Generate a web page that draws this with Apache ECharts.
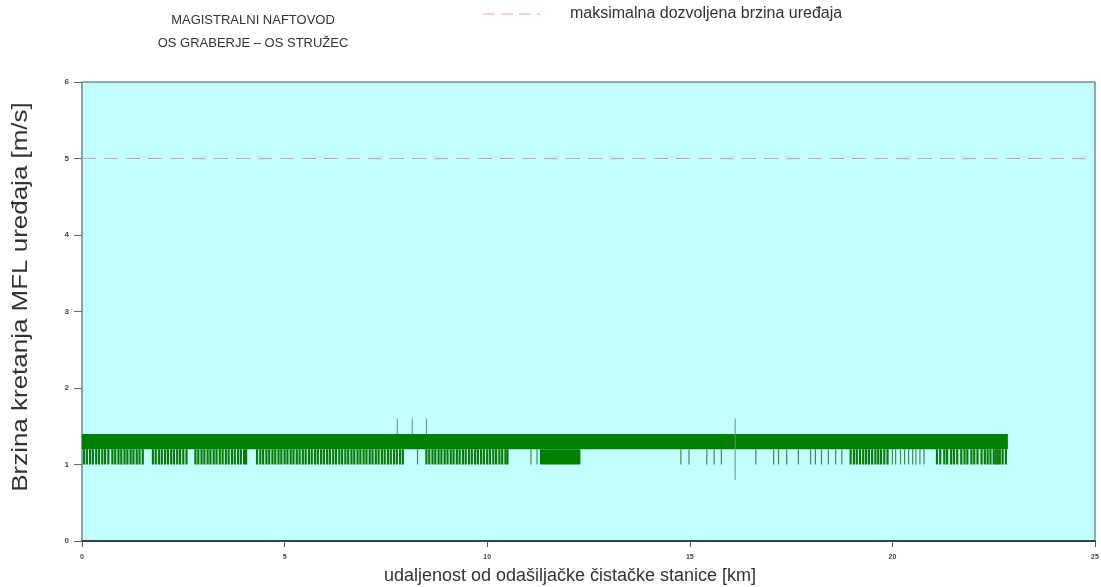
<!DOCTYPE html>
<html>
<head>
<meta charset="utf-8">
<script src="https://cdn.jsdelivr.net/npm/echarts@6/dist/echarts.min.js"></script>
<style>
  html, body { margin: 0; padding: 0; background: #ffffff; }
  #chart { width: 1101px; height: 587px; }
</style>
</head>
<body>
<div id="chart"></div>
<script>
// Speed of the MFL inspection tool along the pipeline (km, m/s)
const titleLines = ['MAGISTRALNI NAFTOVOD', 'OS GRABERJE – OS STRUŽEC'];
const limitName = 'maksimalna dozvoljena brzina uređaja';
const xName = 'udaljenost od odašiljačke čistačke stanice [km]';
const yName = 'Brzina kretanja MFL uređaja [m/s]';

const maxAllowedSpeed = 5;

// continuous speed band: [startKm, endKm, lowSpeed, highSpeed]
const bandRanges = [
  [0, 22.85, 1.2, 1.4],
  [11.3, 12.3, 1.0, 1.2]
];

// readings where speed fell to 1.0 m/s
const dipSpeed = 1.0;
const dipBase = 1.2;
// densely recorded stretches
const denseDipKm = [
  0.05, 0.12, 0.2, 0.27, 0.35, 0.42, 0.5, 0.57, 0.65, 0.75, 0.82, 0.9, 0.97, 1.05, 1.12, 1.2, 1.27, 1.35, 1.42, 1.5,
  1.75, 1.82, 1.9, 1.97, 2.05, 2.12, 2.2, 2.27, 2.35, 2.42, 2.5, 2.58,
  2.8, 2.87, 2.95, 3.02, 3.1, 3.17, 3.25, 3.32, 3.4, 3.47, 3.55, 3.62, 3.7, 3.77, 3.85, 3.92, 4.0, 4.05,
  4.32, 4.4, 4.47, 4.55, 4.62, 4.7, 4.77, 4.85, 4.92, 5.0, 5.07, 5.15, 5.22, 5.3, 5.37, 5.45, 5.52,
  5.6, 5.67, 5.75, 5.82, 5.9, 5.97, 6.05, 6.12, 6.2, 6.27, 6.35, 6.42, 6.5, 6.57, 6.65, 6.72, 6.8,
  6.87, 6.95, 7.02, 7.1, 7.17, 7.25, 7.32, 7.4, 7.47, 7.55, 7.62, 7.7, 7.77, 7.85, 7.92,
  8.5, 8.57, 8.65, 8.72, 8.8, 8.87, 8.95, 9.02, 9.1, 9.17, 9.25, 9.32, 9.4, 9.47, 9.55, 9.62, 9.7,
  9.77, 9.85, 9.92, 10.0, 10.07, 10.15, 10.22, 10.3, 10.37, 10.45, 10.5,
  18.97, 19.05, 19.12, 19.2, 19.28, 19.35, 19.42, 19.5, 19.58, 19.65, 19.72, 19.8, 19.88,
  21.1, 21.18, 21.28, 21.35, 21.45, 21.52, 21.6, 21.7, 21.78, 21.85, 21.95, 22.02, 22.1,
  22.2, 22.28, 22.35, 22.42, 22.5, 22.55, 22.6, 22.65, 22.72, 22.8
];
// isolated readings
const sparseDipKm = [
  8.28, 11.08, 11.23,
  14.78, 14.98, 15.42, 15.6, 15.78, 16.63, 17.07, 17.19, 17.39, 17.68, 17.98, 18.1, 18.25, 18.42,
  18.6, 18.75,
  20.0, 20.08, 20.2, 20.3, 20.4, 20.5, 20.58, 20.68, 20.78
];

// short excursions outside the band: [km, fromSpeed, toSpeed]
const excursions = [
  [7.78, 1.4, 1.6],
  [8.15, 1.4, 1.6],
  [8.5, 1.4, 1.6],
  [16.12, 0.8, 1.6]
];

const xTicks = [0, 5, 10, 15, 20, 25];
const yTicks = [0, 1, 2, 3, 4, 5, 6];

const chart = echarts.init(document.getElementById('chart'), null, { renderer: 'canvas' });

const GREEN = '#008000';
const FONT = '"Liberation Sans", Arial, sans-serif';

function renderRange(params, api) {
  const a = api.coord([api.value(0), api.value(3)]);
  const b = api.coord([api.value(1), api.value(2)]);
  return {
    type: 'rect',
    shape: { x: a[0], y: a[1], width: b[0] - a[0], height: b[1] - a[1] },
    style: { fill: GREEN }
  };
}

function makeVertical(color, width) {
  return function (params, api) {
    const a = api.coord([api.value(0), api.value(1)]);
    const b = api.coord([api.value(0), api.value(2)]);
    return {
      type: 'line',
      shape: { x1: a[0], y1: a[1], x2: b[0], y2: b[1] },
      style: { stroke: color, lineWidth: width }
    };
  };
}

const option = {
  animation: false,
  backgroundColor: '#ffffff',
  textStyle: { fontFamily: FONT },
  grid: {
    left: 82, right: 6, top: 82, bottom: 46,
    containLabel: false,
    outerBoundsMode: 'none',
    show: true,
    backgroundColor: '#c4ffff',
    borderColor: '#3d5656',
    borderWidth: 1
  },
  xAxis: {
    type: 'value',
    min: xTicks[0], max: xTicks[xTicks.length - 1], interval: 5,
    axisLine: { show: true, lineStyle: { color: '#2f4646', width: 2 } },
    axisTick: { show: true, length: 6, lineStyle: { color: '#555555' } },
    axisLabel: { fontSize: 7, color: '#444444', margin: 13, fontWeight: 'bold' },
    splitLine: { show: false }
  },
  yAxis: {
    type: 'value',
    min: yTicks[0], max: yTicks[yTicks.length - 1], interval: 1,
    axisLine: { show: true, lineStyle: { color: '#7fa9a9', width: 2 } },
    axisTick: { show: true, length: 8, lineStyle: { color: '#666666' } },
    axisLabel: { fontSize: 8, color: '#444444', margin: 13, fontWeight: 'bold' },
    splitLine: { show: false }
  },
  graphic: [
    {
      type: 'text', x: 253, y: 9,
      style: {
        text: titleLines.join('\n'), fill: '#333333', font: '13px ' + FONT,
        align: 'center', lineHeight: 23
      }
    },
    {
      type: 'line',
      shape: { x1: 483, y1: 14, x2: 540, y2: 14 },
      style: { stroke: '#e3a3ae', lineWidth: 1, lineDash: [12, 6] }
    },
    {
      type: 'text', x: 570, y: 14,
      style: { text: limitName, fill: '#333333', font: '16px ' + FONT, verticalAlign: 'middle' }
    },
    {
      type: 'text', x: 570, y: 576,
      style: { text: xName, fill: '#333333', font: '18px ' + FONT, align: 'center', verticalAlign: 'middle' }
    },
    {
      type: 'text', x: 21, y: 297, rotation: Math.PI / 2, scaleX: 1.18,
      style: { text: yName, fill: '#333333', font: '22px ' + FONT, align: 'center', verticalAlign: 'middle' }
    }
  ],
  series: [
    {
      name: limitName,
      type: 'line',
      data: [[xTicks[0], maxAllowedSpeed], [xTicks[xTicks.length - 1], maxAllowedSpeed]],
      symbol: 'none',
      lineStyle: { color: '#e09aa8', width: 1, type: [14, 8] },
      z: 3
    },
    {
      type: 'custom',
      renderItem: renderRange,
      data: bandRanges,
      z: 4
    },
    {
      type: 'custom',
      renderItem: makeVertical('#0a7a0a', 2.2),
      data: denseDipKm.map(k => [k, dipBase, dipSpeed]),
      z: 5
    },
    {
      type: 'custom',
      renderItem: makeVertical('#3f8a55', 1.2),
      data: sparseDipKm.map(k => [k, dipBase, dipSpeed]),
      z: 5
    },
    {
      type: 'custom',
      renderItem: makeVertical('#5f8f72', 1),
      data: excursions,
      z: 6
    }
  ]
};

chart.setOption(option);
</script>
</body>
</html>
